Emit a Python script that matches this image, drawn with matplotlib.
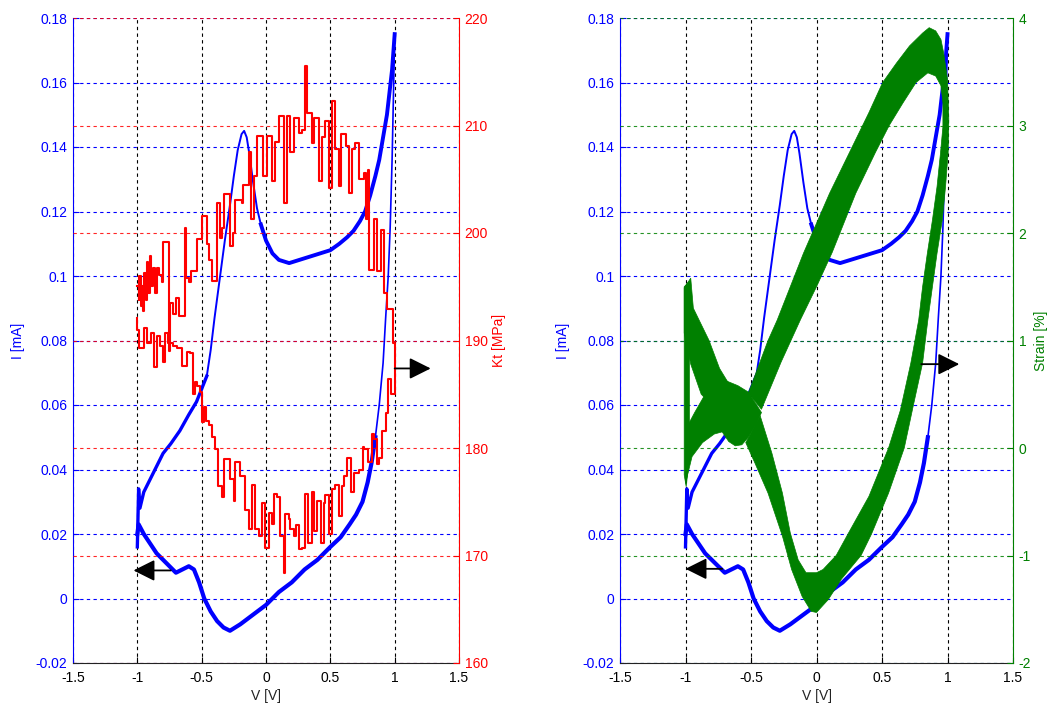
import numpy as np
import matplotlib
matplotlib.use('Agg')
import matplotlib.pyplot as plt

plt.rcParams['font.family'] = ['Liberation Sans', 'DejaVu Sans']
plt.rcParams['font.size'] = 10
plt.rcParams['axes.unicode_minus'] = False

BLUE = '#0000FF'
RED = '#FF0000'
GREEN = '#008000'

# axis ticks
v_ticks = [-1.5, -1, -0.5, 0, 0.5, 1, 1.5]
v_labels = ['-1.5', '-1', '-0.5', '0', '0.5', '1', '1.5']
i_ticks = [-0.02, 0, 0.02, 0.04, 0.06, 0.08, 0.1, 0.12, 0.14, 0.16, 0.18]
i_labels = ['-0.02', '0', '0.02', '0.04', '0.06', '0.08', '0.1', '0.12', '0.14', '0.16', '0.18']
kt_ticks = [160, 170, 180, 190, 200, 210, 220]
strain_ticks = [-2, -1, 0, 1, 2, 3, 4]

# current - voltage loop (forward sweep, then reverse sweep)
fwd_v = [-1.00, -0.99, -0.98, -0.95, -0.90, -0.85, -0.80, -0.74, -0.67, -0.60, -0.54, -0.50,
         -0.46, -0.43, -0.40, -0.36, -0.32, -0.28, -0.25, -0.22, -0.19, -0.17, -0.15, -0.13,
         -0.10, -0.07, -0.04, 0.00, 0.05, 0.10, 0.18, 0.26, 0.34, 0.42, 0.50, 0.57, 0.63,
         0.68, 0.73, 0.77, 0.81, 0.85, 0.88, 0.91, 0.94, 0.96, 0.98, 1.00]
fwd_i = [0.016, 0.034, 0.028, 0.033, 0.037, 0.041, 0.045, 0.048, 0.052, 0.057, 0.061, 0.065,
         0.069, 0.077, 0.087, 0.099, 0.111, 0.122, 0.131, 0.139, 0.144, 0.145, 0.143, 0.138,
         0.129, 0.121, 0.116, 0.111, 0.107, 0.105, 0.104, 0.105, 0.106, 0.107, 0.108, 0.110,
         0.112, 0.114, 0.117, 0.120, 0.125, 0.131, 0.136, 0.143, 0.150, 0.157, 0.164, 0.175]
rev_v = [1.00, 0.99, 0.98, 0.965, 0.95, 0.93, 0.91, 0.88, 0.85, 0.82, 0.79, 0.75, 0.70, 0.65,
         0.58, 0.50, 0.40, 0.30, 0.20, 0.10, 0.00, -0.10, -0.20, -0.28, -0.33, -0.38, -0.43,
         -0.48, -0.52, -0.56, -0.60, -0.65, -0.70, -0.75, -0.80, -0.85, -0.90, -0.95, -0.99, -1.00]
rev_i = [0.175, 0.155, 0.136, 0.115, 0.100, 0.087, 0.073, 0.060, 0.050, 0.042, 0.036, 0.030,
         0.026, 0.023, 0.019, 0.016, 0.012, 0.009, 0.005, 0.002, -0.002, -0.005, -0.008, -0.010,
         -0.009, -0.007, -0.004, 0.000, 0.005, 0.009, 0.010, 0.009, 0.008, 0.010, 0.012, 0.014,
         0.017, 0.020, 0.023, 0.020]

# Kt staircase (upper branch -1 -> 1, then lower branch 1 -> -1)
kt_v = [-1.00, -0.99, -0.985, -0.975, -0.965, -0.955, -0.945, -0.935, -0.925, -0.915, -0.905,
        -0.895, -0.88, -0.865, -0.85, -0.83, -0.81, -0.80, -0.755, -0.745, -0.72, -0.70, -0.68,
        -0.63, -0.62, -0.60, -0.58, -0.54, -0.50, -0.46, -0.44, -0.42, -0.38, -0.36, -0.345,
        -0.33, -0.28, -0.26, -0.24, -0.19, -0.18, -0.135, -0.12, -0.095, -0.07, -0.02, 0.01,
        0.045, 0.07, 0.10, 0.14, 0.165, 0.19, 0.215, 0.255, 0.28, 0.305, 0.32, 0.36, 0.37, 0.41,
        0.435, 0.46, 0.49, 0.515, 0.54, 0.565, 0.58, 0.62, 0.645, 0.67, 0.695, 0.72, 0.76, 0.775,
        0.79, 0.80, 0.84, 0.865, 0.89, 0.915, 0.94, 0.99, 1.00,
        0.97, 0.945, 0.93, 0.905, 0.88, 0.865, 0.84, 0.825, 0.79, 0.76, 0.75, 0.72, 0.685, 0.66,
        0.63, 0.605, 0.59, 0.565, 0.54, 0.515, 0.49, 0.46, 0.45, 0.425, 0.40, 0.37, 0.36, 0.33,
        0.305, 0.28, 0.255, 0.23, 0.215, 0.19, 0.175, 0.15, 0.14, 0.11, 0.085, 0.06, 0.045, 0.02,
        -0.005, -0.03, -0.055, -0.085, -0.11, -0.135, -0.16, -0.20, -0.24, -0.25, -0.28, -0.33,
        -0.34, -0.37, -0.395, -0.42, -0.445, -0.47, -0.485, -0.50, -0.51, -0.54, -0.55, -0.565,
        -0.59, -0.615, -0.655, -0.69, -0.72, -0.76, -0.785, -0.80, -0.825, -0.85, -0.87, -0.89,
        -0.925, -0.95, -0.99, -1.00]
kt = [195.1, 193.8, 196.0, 193.2, 195.1, 192.7, 196.3, 193.8, 197.3, 194.4, 197.9,
      195.1, 196.7, 194.4, 196.7, 196.1, 195.4, 199.2, 189.0, 193.5, 192.5, 194.0, 192.3,
      200.5, 195.8, 195.4, 196.5, 199.4, 201.6, 199.0, 197.5, 195.5, 202.8, 199.5, 200.5,
      203.6, 198.8, 200.0, 203.1, 202.8, 204.5, 207.5, 201.3, 205.3, 209.0, 205.3, 209.0,
      204.8, 208.5, 210.9, 202.8, 210.9, 207.5, 210.7, 209.3, 209.6, 215.5, 211.2, 208.4, 210.7, 204.8,
      208.9, 210.4, 204.2, 212.3, 207.8, 204.4, 209.2, 208.1, 203.7, 207.8, 208.4, 205.0, 205.6, 201.3,
      205.9, 196.6, 201.3, 196.5, 200.3, 194.4, 192.9, 189.8, 185.0,
      186.4, 183.3, 181.6, 179.1, 178.5, 180.8, 181.3, 178.7, 179.9, 180.1, 178.0, 177.7, 175.9, 179.1,
      177.4, 176.5, 173.7, 176.6, 176.2, 172.0, 175.6, 174.9, 171.2, 175.1, 172.3, 175.9, 171.2, 175.7,
      170.7, 170.6, 172.8, 171.8, 172.5, 173.4, 173.9, 168.4, 171.8, 175.4, 175.7, 172.9, 174.0, 170.7,
      174.9, 171.8, 172.5, 176.6, 172.5, 174.2, 177.4, 178.7, 175.1, 177.1, 179.0, 175.4,
      176.5, 179.9, 181.0, 182.1, 182.5, 183.8, 182.4, 185.2, 185.8, 186.1, 185.0, 188.8,
      188.9, 187.6, 189.3, 189.5, 189.8, 190.7, 188.0, 189.5, 190.4, 187.5, 190.7, 189.8,
      191.2, 189.3, 191.0, 192.1]

# strain band: outer and inner edge of the main loop
band_out_v = [-0.52, -0.37, -0.30, -0.20, -0.10, 0.00, 0.10, 0.20, 0.30, 0.40, 0.505, 0.61,
              0.71, 0.81, 0.86, 0.91, 0.95, 0.97, 1.00, 1.01, 1.005, 0.985, 0.96, 0.92, 0.885,
              0.85, 0.81, 0.74, 0.67, 0.55, 0.42, 0.34, 0.19, 0.09, 0.00, -0.04, -0.11, -0.19,
              -0.26, -0.37, -0.47, -0.54]
band_out_s = [0.51, 1.00, 1.19, 1.50, 1.81, 2.09, 2.37, 2.62, 2.87, 3.12, 3.40, 3.58,
              3.74, 3.86, 3.91, 3.88, 3.80, 3.68, 3.43, 3.06, 2.75, 2.43, 2.12, 1.81, 1.50,
              1.19, 0.79, 0.40, 0.00, -0.42, -0.80, -1.00, -1.22, -1.41, -1.53, -1.52, -1.38, -1.13,
              -0.82, -0.42, -0.14, 0.05]
band_in_v = [-0.42, -0.27, -0.12, 0.00, 0.12, 0.30, 0.45, 0.555, 0.66, 0.76, 0.85, 0.91,
             0.95, 0.965, 0.965, 0.947, 0.92, 0.885, 0.846, 0.81, 0.78, 0.72, 0.64, 0.55, 0.40,
             0.24, 0.15, 0.05, 0.00, -0.08, -0.14, -0.20, -0.26, -0.34, -0.43]
band_in_s = [0.36, 0.80, 1.20, 1.50, 1.82, 2.37, 2.75, 3.00, 3.21, 3.40, 3.49, 3.46,
             3.37, 3.21, 2.99, 2.75, 2.43, 2.12, 1.81, 1.50, 1.19, 0.79, 0.35, 0.00, -0.45,
             -0.80, -1.00, -1.13, -1.16, -1.16, -1.04, -0.79, -0.42, -0.05, 0.30]
# crossing near -0.6 V and the arm to -1 V
blob_v = [-1.00, -0.93, -0.85, -0.78, -0.70, -0.60, -0.52, -0.42, -0.46, -0.52, -0.57, -0.62,
          -0.67, -0.72, -0.78, -0.87, -0.95, -1.00]
blob_s = [0.17, 0.33, 0.50, 0.61, 0.63, 0.58, 0.52, 0.33, 0.22, 0.10, 0.03, 0.02,
          0.06, 0.15, 0.13, 0.05, -0.08, -0.33]
tail_v = [-1.01, -0.96, -0.94, -0.82, -0.74, -0.66, -0.80, -0.88, -0.96, -1.01]
tail_s = [1.49, 1.58, 1.30, 1.00, 0.74, 0.58, 0.40, 0.50, 0.78, 1.07]
strip_v = [-1.01, -1.01, -0.97, -0.97, -0.995]
strip_s = [-0.25, 1.50, 1.55, -0.10, -0.36]

fwd_v, fwd_i = np.array(fwd_v), np.array(fwd_i)
rev_v, rev_i = np.array(rev_v), np.array(rev_i)

grid_ls = (0, (3, 3))


def draw_cv(ax):
    m1 = fwd_v <= -0.46
    m2 = (fwd_v >= -0.46) & (fwd_v <= -0.04)
    m3 = fwd_v >= -0.04
    ax.plot(fwd_v[m1], fwd_i[m1], color=BLUE, lw=2.4)
    ax.plot(fwd_v[m2], fwd_i[m2], color=BLUE, lw=1.4)
    ax.plot(fwd_v[m3], fwd_i[m3], color=BLUE, lw=2.8)
    m4 = rev_v >= 0.85
    m5 = rev_v <= 0.85
    ax.plot(rev_v[m4], rev_i[m4], color=BLUE, lw=1.2)
    ax.plot(rev_v[m5], rev_i[m5], color=BLUE, lw=3.0)


def arrow(ax, tail, tip):
    ax.annotate('', xy=tip, xytext=tail,
                arrowprops=dict(arrowstyle='-|>,head_length=1.0,head_width=0.5',
                                color='k', lw=1.3, mutation_scale=13,
                                shrinkA=0, shrinkB=0))


def setup(ax, color, lim, ticks, name, label_x):
    ax.set_xlim(-1.5, 1.5)
    ax.set_ylim(-0.02, 0.18)
    ax.set_xticks(v_ticks)
    ax.set_xticklabels(v_labels)
    ax.set_yticks(i_ticks)
    ax.set_yticklabels(i_labels)
    ax.tick_params(axis='x', direction='in', length=4, colors='k', pad=6)
    ax.tick_params(axis='y', direction='in', length=4, colors=BLUE, pad=4)
    ax.xaxis.grid(True, color='k', ls=grid_ls, lw=0.8)
    ax.yaxis.grid(True, color=BLUE, ls=grid_ls, lw=0.8)
    ax.set_axisbelow(True)
    ax.spines['top'].set_visible(False)
    ax.spines['right'].set_visible(False)
    ax.spines['left'].set_color(BLUE)
    ax.spines['bottom'].set_color('#222222')
    ax.set_xlabel('V [V]', color='#222222')
    ax.xaxis.set_label_coords(0.5, -0.04)
    ax.set_ylabel('I [mA]', color=BLUE)
    ax.yaxis.set_label_coords(label_x[0], 0.5)

    tw = ax.twinx()
    tw.set_ylim(*lim)
    tw.set_yticks(ticks)
    tw.set_yticklabels([str(t) for t in ticks])
    tw.tick_params(axis='y', direction='in', length=4, colors=color, pad=4)
    tw.yaxis.grid(True, color=color, ls=grid_ls, lw=0.8, alpha=0.85)
    for s in ['top', 'left', 'bottom']:
        tw.spines[s].set_visible(False)
    tw.spines['right'].set_color(color)
    tw.set_ylabel(name, color=color)
    tw.yaxis.set_label_coords(label_x[1], 0.5)
    return tw


fig = plt.figure(figsize=(10.6, 7.11), dpi=100)
ax_l = fig.add_axes([73 / 1060, 1 - 663 / 711, 386 / 1060, 645 / 711])
ax_r = fig.add_axes([620 / 1060, 1 - 663 / 711, 393 / 1060, 645 / 711])

# left panel: current and Kt
kt_ax = setup(ax_l, RED, (160, 220), kt_ticks, 'Kt [MPa]', (-0.125, 1.085))
draw_cv(ax_l)
kt_ax.plot(kt_v, kt, color=RED, lw=1.5, drawstyle='steps-post')
arrow(ax_l, (-0.74, 0.0087), (-1.03, 0.0087))
arrow(kt_ax, (1.0, 187.4), (1.28, 187.4))

# right panel: current and strain
st_ax = setup(ax_r, GREEN, (-2, 4), strain_ticks, 'Strain [%]', (-0.128, 1.053))
draw_cv(ax_r)
st_ax.fill(np.concatenate([band_out_v, band_in_v[::-1]]),
           np.concatenate([band_out_s, band_in_s[::-1]]),
           color=GREEN, lw=0.5)
st_ax.fill(blob_v, blob_s, color=GREEN, lw=0.5)
st_ax.fill(tail_v, tail_s, color=GREEN, lw=0.5)
st_ax.fill(strip_v, strip_s, color=GREEN, lw=0.5)
arrow(ax_r, (-0.72, 0.0092), (-1.0, 0.0092))
arrow(st_ax, (0.80, 0.78), (1.09, 0.78))

fig.savefig('out.png', dpi=100)
